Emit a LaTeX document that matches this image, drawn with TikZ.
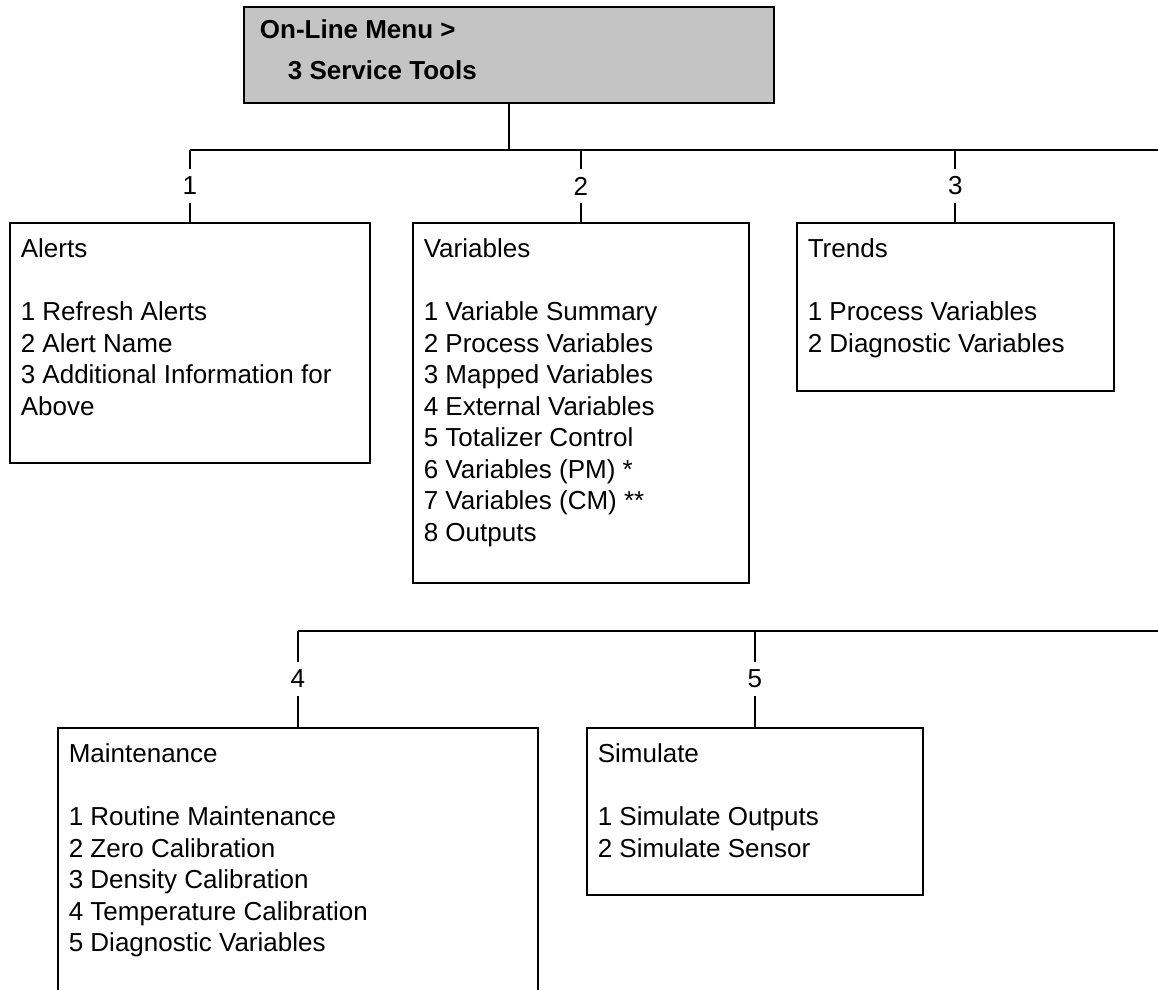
\documentclass[tikz,border=0pt]{standalone}
\usepackage{fontspec}
\setmainfont{Liberation Sans}
\usetikzlibrary{calc}

\definecolor{menugray}{RGB}{196,196,196}

% box text: width, height, first baseline
\newcommand{\menupanel}[4][35pt]{%
  \begin{minipage}[t][#3][t]{#2}\raggedright\rule{0pt}{#1}#4\end{minipage}}

\begin{document}
\begin{tikzpicture}[x=1pt, y=-1pt,
    panel/.style={draw, line width=1.6pt, anchor=north west, inner xsep=11pt, inner ysep=0pt,
      font=\fontsize{26}{31.5}\selectfont},
    tag/.style={fill=white, inner xsep=2pt, inner ysep=8pt, font=\fontsize{26}{30}\selectfont},
    wire/.style={line width=2.2pt}]
    \useasboundingbox (0,0) rectangle (1158,989);
    \clip (0,0) rectangle (1158,989);

    % Title
    \node (menu) at (243,6) [panel, fill=menugray, line width=1.8pt, inner xsep=16pt]
      {\menupanel[32pt]{498pt}{96pt}{\bfseries On-Line Menu >\\[9.5pt]\hspace*{28pt}3 Service Tools}};

    % First row
    \node (alerts) at (9,222) [panel] {\menupanel{338pt}{240pt}{%
        Alerts\\[31.5pt]
        1 Refresh Alerts\\
        2 Alert Name\\
        3 Additional Information for\\
        Above}};

    \node (variables) at (412,222) [panel] {\menupanel{314pt}{360pt}{%
        Variables\\[31.5pt]
        1 Variable Summary\\
        2 Process Variables\\
        3 Mapped Variables\\
        4 External Variables\\
        5 Totalizer Control\\
        6 Variables (PM) *\\
        7 Variables (CM) **\\
        8 Outputs}};

    \node (trends) at (796,222) [panel] {\menupanel{295pt}{168pt}{%
        Trends\\[31.5pt]
        1 Process Variables\\
        2 Diagnostic Variables}};

    % Second row
    \node (maintenance) at (57,727) [panel] {\menupanel{458pt}{300pt}{%
        Maintenance\\[31.5pt]
        1 Routine Maintenance\\
        2 Zero Calibration\\
        3 Density Calibration\\
        4 Temperature Calibration\\
        5 Diagnostic Variables}};

    \node (simulate) at (586,727) [panel] {\menupanel{314pt}{167pt}{%
        Simulate\\[31.5pt]
        1 Simulate Outputs\\
        2 Simulate Sensor}};

    % Connectors, first row
    \coordinate (bus1) at (1158,150);
    \draw[wire] (menu.south) -- (menu.south |- bus1);
    \draw[wire] (alerts.north |- bus1) -- (bus1);
    \draw[wire] (alerts.north |- bus1) -- node[tag] {1} (alerts.north);
    \draw[wire] (variables.north |- bus1) -- node[tag] {2} (variables.north);
    \draw[wire] (trends.north |- bus1) -- node[tag] {3} (trends.north);

    % Connectors, second row
    \coordinate (bus2) at (1158,631);
    \draw[wire] (maintenance.north |- bus2) -- (bus2);
    \draw[wire] (maintenance.north |- bus2) -- node[tag] {4} (maintenance.north);
    \draw[wire] (simulate.north |- bus2) -- node[tag] {5} (simulate.north);
\end{tikzpicture}
\end{document}
